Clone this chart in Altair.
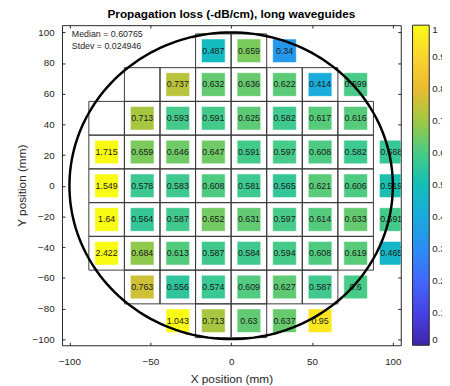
import altair as alt
import pandas as pd

# ---------------- data ----------------
row_y = [88, 66, 44, 22, 0, -22, -44, -66, -88]
row_first_x = [-11, -33, -55, -77, -77, -77, -77, -55, -33]
row_values = [
    [0.487, 0.659, 0.34],
    [0.737, 0.632, 0.636, 0.622, 0.414, 0.599],
    [0.713, 0.593, 0.591, 0.625, 0.582, 0.617, 0.616],
    [1.715, 0.659, 0.646, 0.647, 0.591, 0.597, 0.608, 0.582, 0.568],
    [1.549, 0.578, 0.583, 0.608, 0.581, 0.565, 0.621, 0.606, 0.519],
    [1.64, 0.564, 0.587, 0.652, 0.631, 0.597, 0.614, 0.633, 0.591],
    [2.422, 0.684, 0.613, 0.587, 0.584, 0.594, 0.608, 0.619, 0.465],
    [0.763, 0.556, 0.574, 0.609, 0.627, 0.587, 0.6],
    [1.043, 0.713, 0.63, 0.637, 0.95],
]
# outlined die cells per row (first / last column centre)
outline_first_x = [-11, -55, -77, -77, -77, -77, -77, -55, -11]
outline_last_x = [11, 55, 77, 77, 77, 77, 77, 55, 11]
pitch = 22
wafer_radius = 100

stats_lines = ["Median = 0.60765", "Stdev = 0.024946"]
title_text = "Propagation loss (-dB/cm), long waveguides"
x_ticks = [-100, -50, 0, 50, 100]
y_ticks = [-100, -80, -60, -40, -20, 0, 20, 40, 60, 80, 100]
cbar_stops = [0, 0.1, 0.2, 0.3, 0.4, 0.5, 0.6, 0.7, 0.8, 0.9, 1.0]
parula = ["#3e26a8", "#4741e5", "#4367fd", "#2d8cf3", "#1baadf", "#12beb9",
          "#48cb86", "#9dc942", "#eaba30", "#fad42e", "#f9fb14"]

# ---------------- tables ----------------
cells = []
for yv, x0, vals in zip(row_y, row_first_x, row_values):
    for i, v in enumerate(vals):
        cells.append({"x": x0 + i * pitch, "y": yv, "v": v})
cells_df = pd.DataFrame(cells)

outline = []
for yv, a, b in zip(row_y, outline_first_x, outline_last_x):
    xc = a
    while xc <= b:
        outline.append({"x": xc - pitch / 2, "x2": xc + pitch / 2,
                        "y": yv - pitch / 2, "y2": yv + pitch / 2})
        xc += pitch
outline_df = pd.DataFrame(outline)

FONT = "Liberation Sans"
TXT = "#262626"

xs = alt.Scale(domain=[-104.6, 104.9], nice=False, zero=False)
ys = alt.Scale(domain=[-104.0, 104.7], nice=False, zero=False)

bottom_axis = alt.Axis(orient="bottom", values=x_ticks, domain=False, offset=-3, tickSize=3,
                       tickColor=TXT, labelPadding=12, labelFontSize=10, labelColor=TXT,
                       labelFont=FONT, labelFlush=False, title="X position (mm)", titleFontSize=12,
                       titleFont=FONT, titleFontWeight="normal", titleColor=TXT,
                       titlePadding=7, grid=False)
left_axis = alt.Axis(orient="left", values=y_ticks, domain=False, offset=-3, tickSize=3,
                     tickColor=TXT, labelPadding=8, labelFontSize=10, labelColor=TXT,
                     labelFont=FONT, labelFlush=False, title="Y position (mm)", titleFontSize=12,
                     titleFont=FONT, titleFontWeight="normal", titleColor=TXT,
                     titlePadding=4, grid=False)
top_axis = alt.Axis(orient="top", values=x_ticks, domain=False, offset=-3, tickSize=3,
                    tickColor=TXT, labels=False, title=None, grid=False)
right_axis = alt.Axis(orient="right", values=y_ticks, domain=False, offset=-3, tickSize=3,
                      tickColor=TXT, labels=False, title=None, grid=False)

grid = alt.Chart(outline_df).mark_rect(fill=None, stroke="#3a3a3a", strokeWidth=1).encode(
    x=alt.X("x:Q", scale=xs, axis=bottom_axis), x2="x2:Q",
    y=alt.Y("y:Q", scale=ys, axis=left_axis), y2="y2:Q",
)

squares = alt.Chart(cells_df).mark_square(size=580, opacity=1, stroke="white",
                                          strokeOpacity=0.55, strokeWidth=1, clip=True).encode(
    x=alt.X("x:Q", scale=xs, axis=None),
    y=alt.Y("y:Q", scale=ys, axis=None),
    color=alt.Color("v:Q", scale=alt.Scale(domain=cbar_stops, range=parula, clamp=True,
                                           interpolate="rgb"),
                    legend=alt.Legend(title=None, orient="right", offset=11, padding=0,
                                      gradientLength=326, gradientThickness=17,
                                      values=cbar_stops, format=".1~f", labelFontSize=10,
                                      labelColor=TXT, labelFont=FONT, labelOffset=3,
                                      gradientStrokeColor=TXT, gradientStrokeWidth=1,
                                      labelOverlap=False, direction="vertical", type="gradient")),
)

labels = alt.Chart(cells_df).mark_text(fontSize=9, font=FONT, color="#1a1a1a", clip=True).encode(
    x=alt.X("x:Q", scale=xs, axis=None),
    y=alt.Y("y:Q", scale=ys, axis=None),
    text=alt.Text("v:Q", format=".4~g"),
)

circle = alt.Chart(alt.sequence(0, 362, 2, as_="deg")).transform_calculate(
    x=f"{wafer_radius}*cos(datum.deg*PI/180)",
    y=f"{wafer_radius}*sin(datum.deg*PI/180)",
).mark_line(color="black", strokeWidth=2.5).encode(
    x=alt.X("x:Q", scale=xs, axis=top_axis),
    y=alt.Y("y:Q", scale=ys, axis=right_axis),
    order="deg:Q",
)

ann = alt.Chart(pd.DataFrame({"t": ["\n".join(stats_lines)]})).mark_text(
    align="left", baseline="top", lineBreak="\n", lineHeight=12, fontSize=9, font=FONT, color=TXT
).encode(x=alt.value(10), y=alt.value(5), text="t:N")

chart = alt.layer(grid, squares, labels, circle, ann).resolve_axis(
    x="independent", y="independent"
).properties(
    width=345, height=326,
    autosize=alt.AutoSizeParams(type="none"),
    padding={"left": 55, "top": 14, "right": 42, "bottom": 38},
    title=alt.TitleParams(title_text, fontSize=12, fontWeight="bold", font=FONT, color="black",
                          anchor="middle", offset=4),
).configure_view(stroke=TXT, strokeWidth=1)

chart.save("out.html", embed_options={"renderer": "svg", "actions": False})
